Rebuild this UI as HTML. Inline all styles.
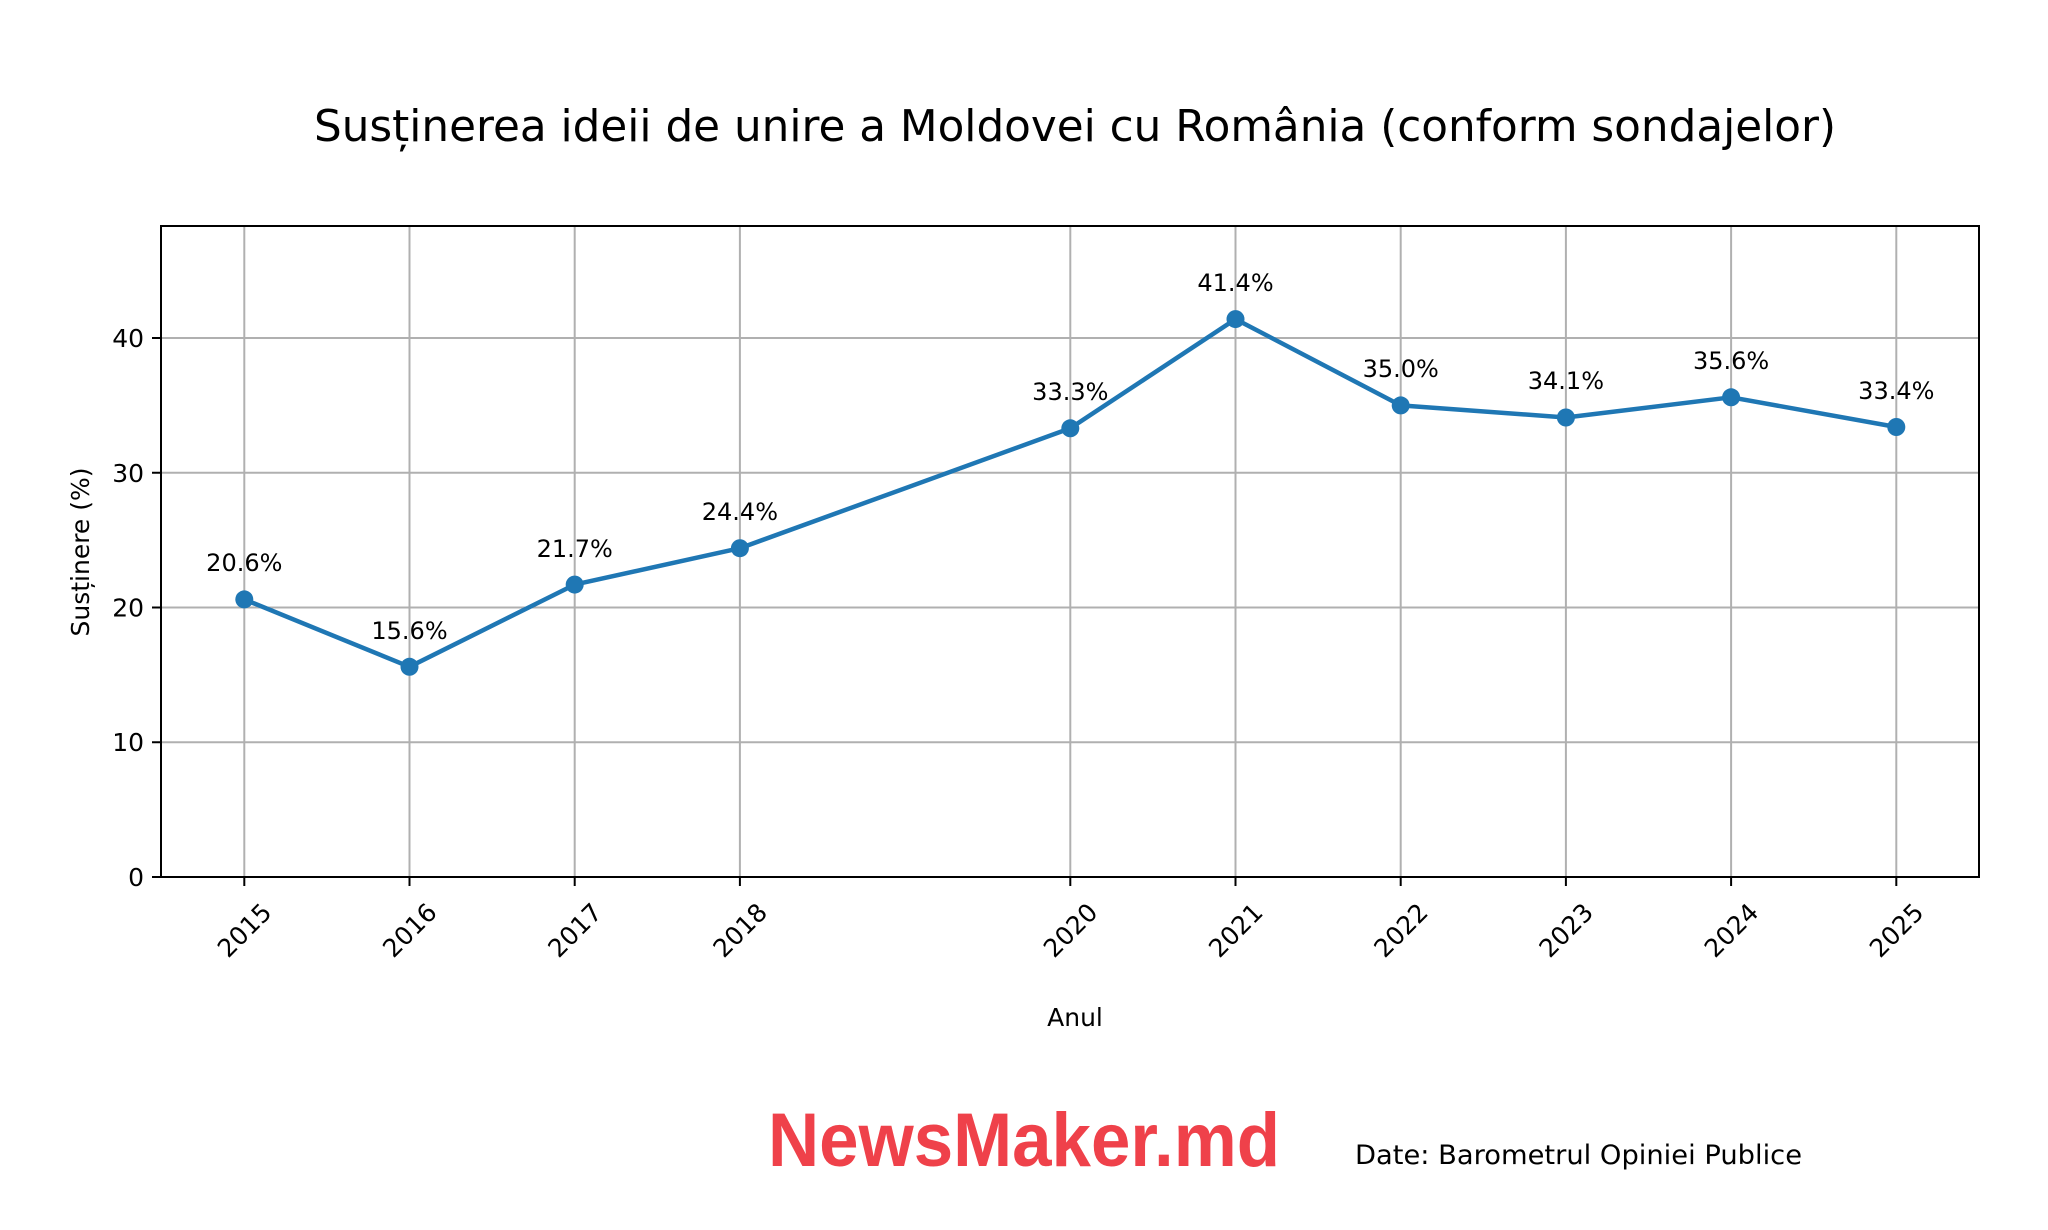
<!DOCTYPE html>
<html><head><meta charset="utf-8"><style>body{margin:0;background:#fff}svg{display:block}</style></head>
<body>
<svg width="2048" height="1230" viewBox="0 0 2048 1230" xmlns="http://www.w3.org/2000/svg" font-family="DejaVu Sans, Liberation Sans, sans-serif">
<rect width="2048" height="1230" fill="#fff"/>
<text x="1075" y="141" font-size="43.7" text-anchor="middle" fill="#000">Susținerea ideii de unire a Moldovei cu România (conform sondajelor)</text>
<g stroke="#b0b0b0" stroke-width="2">
<line x1="161" x2="1979" y1="742.25" y2="742.25"/>
<line x1="161" x2="1979" y1="607.5" y2="607.5"/>
<line x1="161" x2="1979" y1="472.75" y2="472.75"/>
<line x1="161" x2="1979" y1="338" y2="338"/>
<line x1="244.3" x2="244.3" y1="226" y2="877"/>
<line x1="409.5" x2="409.5" y1="226" y2="877"/>
<line x1="574.7" x2="574.7" y1="226" y2="877"/>
<line x1="739.9" x2="739.9" y1="226" y2="877"/>
<line x1="1070.3" x2="1070.3" y1="226" y2="877"/>
<line x1="1235.5" x2="1235.5" y1="226" y2="877"/>
<line x1="1400.7" x2="1400.7" y1="226" y2="877"/>
<line x1="1565.9" x2="1565.9" y1="226" y2="877"/>
<line x1="1731.1" x2="1731.1" y1="226" y2="877"/>
<line x1="1896.3" x2="1896.3" y1="226" y2="877"/>
</g>
<rect x="161" y="226" width="1818" height="651" fill="none" stroke="#000" stroke-width="2"/>
<g stroke="#000" stroke-width="2">
<line x1="152" x2="161" y1="877" y2="877"/><line x1="152" x2="161" y1="742.25" y2="742.25"/><line x1="152" x2="161" y1="607.5" y2="607.5"/><line x1="152" x2="161" y1="472.75" y2="472.75"/><line x1="152" x2="161" y1="338" y2="338"/>
<line x1="244.3" x2="244.3" y1="877" y2="886"/><line x1="409.5" x2="409.5" y1="877" y2="886"/><line x1="574.7" x2="574.7" y1="877" y2="886"/><line x1="739.9" x2="739.9" y1="877" y2="886"/><line x1="1070.3" x2="1070.3" y1="877" y2="886"/><line x1="1235.5" x2="1235.5" y1="877" y2="886"/><line x1="1400.7" x2="1400.7" y1="877" y2="886"/><line x1="1565.9" x2="1565.9" y1="877" y2="886"/><line x1="1731.1" x2="1731.1" y1="877" y2="886"/><line x1="1896.3" x2="1896.3" y1="877" y2="886"/>
</g>
<g font-size="25" text-anchor="end" fill="#000">
<text x="144" y="886">0</text><text x="144" y="751">10</text><text x="144" y="616.5">20</text><text x="144" y="481.75">30</text><text x="144" y="347">40</text>
</g>
<g font-size="25" text-anchor="middle" fill="#000">
<text transform="translate(244.3,930) rotate(-45)" dy="9">2015</text>
<text transform="translate(409.5,930) rotate(-45)" dy="9">2016</text>
<text transform="translate(574.7,930) rotate(-45)" dy="9">2017</text>
<text transform="translate(739.9,930) rotate(-45)" dy="9">2018</text>
<text transform="translate(1070.3,930) rotate(-45)" dy="9">2020</text>
<text transform="translate(1235.5,930) rotate(-45)" dy="9">2021</text>
<text transform="translate(1400.7,930) rotate(-45)" dy="9">2022</text>
<text transform="translate(1565.9,930) rotate(-45)" dy="9">2023</text>
<text transform="translate(1731.1,930) rotate(-45)" dy="9">2024</text>
<text transform="translate(1896.3,930) rotate(-45)" dy="9">2025</text>
<text x="1075" y="1026">Anul</text>
<text transform="translate(89,552) rotate(-90)">Susținere (%)</text>
</g>
<polyline fill="none" stroke="#1f77b4" stroke-width="4.5" stroke-linejoin="round" points="244.3,599.4 409.5,666.8 574.7,584.6 739.9,548.2 1070.3,428.3 1235.5,319.1 1400.7,405.4 1565.9,417.5 1731.1,397.3 1896.3,427"/>
<g fill="#1f77b4">
<circle cx="244.3" cy="599.4" r="9"/><circle cx="409.5" cy="666.8" r="9"/><circle cx="574.7" cy="584.6" r="9"/><circle cx="739.9" cy="548.2" r="9"/><circle cx="1070.3" cy="428.3" r="9"/><circle cx="1235.5" cy="319.1" r="9"/><circle cx="1400.7" cy="405.4" r="9"/><circle cx="1565.9" cy="417.5" r="9"/><circle cx="1731.1" cy="397.3" r="9"/><circle cx="1896.3" cy="427" r="9"/>
</g>
<g font-size="24" text-anchor="middle" fill="#000">
<text x="244.3" y="571">20.6%</text><text x="409.5" y="639">15.6%</text><text x="574.7" y="557">21.7%</text><text x="739.9" y="520">24.4%</text><text x="1070.3" y="400">33.3%</text><text x="1235.5" y="291">41.4%</text><text x="1400.7" y="377">35.0%</text><text x="1565.9" y="389">34.1%</text><text x="1731.1" y="369">35.6%</text><text x="1896.3" y="399">33.4%</text>
</g>
<text x="768" y="1166" font-family="Liberation Sans, sans-serif" font-weight="bold" font-size="76" fill="#ef414a" textLength="512" lengthAdjust="spacingAndGlyphs">NewsMaker.md</text>
<text x="1355" y="1164" font-size="27" fill="#000" textLength="447" lengthAdjust="spacingAndGlyphs">Date: Barometrul Opiniei Publice</text>
</svg>
</body></html>
